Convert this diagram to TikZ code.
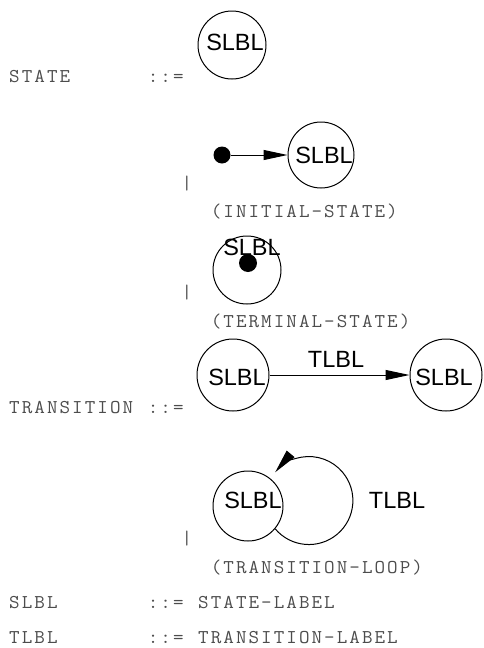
\documentclass[tikz,border=0pt]{standalone}
\usepackage{fontspec}
\usepackage{graphicx}
\setsansfont{Liberation Sans}
\usetikzlibrary{arrows.meta,positioning}
\newcommand{\codefont}{\ttfamily\fontsize{19.5}{21}\selectfont}
% fixed pitch of 12.6pt per character, ~ stands for a blank
\newcommand{\mono}[1]{\monostep#1\relax}
\newcommand{\monostep}[1]{\ifx\relax#1\else\makebox[12.6pt]{\scalebox{1.05}[1]{#1}}\expandafter\monostep\fi}

\begin{document}
\begin{tikzpicture}[
    x=1pt,
    y=1pt,
    >={Triangle[length=24pt,width=10pt]},
    state/.style={circle,draw,line width=1pt,minimum size=70pt,inner sep=0pt},
    dot/.style={circle,fill=black,inner sep=0pt,minimum size=17pt},
    lbl/.style={font=\sffamily\fontsize{23.5}{26}\selectfont,inner sep=0pt},
    code/.style={font=\codefont,text=black!70,inner sep=0pt,anchor=base west},
    bar/.style={font=\codefont,text=black!70,inner sep=0pt},
    edge/.style={->,line width=1pt}
]
  \useasboundingbox (0,0) rectangle (483,-648);

  % STATE
  \node[code] (stateDef) at (8,-82) {\mono{STATE~~~~~~::=}};
  \node[state,minimum size=68pt] (s0) at (232,-45) {};
  \node[lbl] (s0lbl) at (235,-42) {SLBL};

  % initial state
  \node[dot] (initDot) at (222,-155) {};
  \node[state,minimum size=66pt] (sInit) at (321,-155) {};
  \node[lbl] (sInitLbl) at (324,-155) {SLBL};
  \draw[edge] (initDot) -- (sInit);
  \node[bar] (bar1) at (187,-184) {|};
  \node[code] (initName) at (209.6,-217) {\mono{(INITIAL-STATE)}};

  % terminal state
  \node[state,minimum size=68pt] (sTerm) at (247,-270) {};
  \node[dot,minimum size=18pt] (termDot) at (248,-263) {};
  \node[lbl] (sTermLbl) at (252,-247) {SLBL};
  \node[bar] (bar2) at (187,-293) {|};
  \node[code] (termName) at (209.6,-327) {\mono{(TERMINAL-STATE)}};

  % TRANSITION
  \node[code] (transDef) at (8,-413) {\mono{TRANSITION~::=}};
  \node[state,minimum size=72pt] (tA) at (233,-375) {};
  \node[state,minimum size=72pt] (tB) at (446,-375) {};
  \node[lbl] (tAlbl) at (237,-377) {SLBL};
  \node[lbl] (tBlbl) at (444,-377) {SLBL};
  \draw[edge] (tA) -- (tB);
  \node[lbl] (tLbl) at (336,-359) {TLBL};

  % loop
  \node[state] (tC) at (248,-506) {};
  \node[lbl] (tClbl) at (253,-500) {SLBL};
  \draw[edge] (tC.-40) arc[start angle=-140,end angle=140,radius=44];
  \node[lbl] (loopLbl) at (397,-500) {TLBL};
  \node[bar] (bar3) at (187,-539) {|};
  \node[code] (loopName) at (209.6,-573) {\mono{(TRANSITION-LOOP)}};

  % labels
  \node[code] (slblDef) at (8,-608) {\mono{SLBL~~~~~~~::=~STATE-LABEL}};
  \node[code] (tlblDef) at (8,-643) {\mono{TLBL~~~~~~~::=~TRANSITION-LABEL}};
\end{tikzpicture}
\end{document}
